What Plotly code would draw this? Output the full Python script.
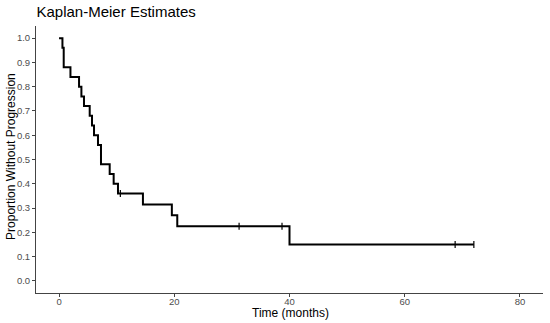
import plotly.graph_objects as go

# Kaplan-Meier step data
event_times = [0, 0.59, 0.81, 1.98, 3.47, 3.88, 4.33, 5.32, 5.72, 6.07, 6.76, 7.28,
               8.79, 9.48, 10.23, 14.56, 19.58, 20.52, 40.0]
surv = [1.0, 0.96, 0.88, 0.84, 0.80, 0.76, 0.72, 0.68, 0.64, 0.60, 0.56, 0.48,
        0.44, 0.40, 0.36, 0.315, 0.27, 0.225, 0.15]
end_time = 72.0
censor_times = [10.64, 31.25, 38.7, 68.75, 72.0]
censor_surv = [0.36, 0.225, 0.225, 0.15, 0.15]

x_ticks = [0, 20, 40, 60, 80]
y_ticks = [0.0, 0.1, 0.2, 0.3, 0.4, 0.5, 0.6, 0.7, 0.8, 0.9, 1.0]

FONT = "Liberation Sans, Arial, sans-serif"
W, H = 550, 323
ML, MR, MT, MB = 36, 7, 25.5, 30
PW, PH = W - ML - MR, H - MT - MB

fig = go.Figure()
fig.add_trace(go.Scatter(
    x=event_times + [end_time], y=surv + [surv[-1]],
    mode="lines", line=dict(color="black", width=2, shape="hv"),
    showlegend=False, hoverinfo="skip"))
fig.add_trace(go.Scatter(
    x=censor_times, y=censor_surv, mode="markers",
    marker=dict(symbol="line-ns", size=5, line=dict(color="black", width=1.2)),
    showlegend=False, hoverinfo="skip"))

axis_common = dict(showgrid=False, zeroline=False, showline=True, automargin=False,
                   linecolor="#444444", linewidth=1, ticks="outside",
                   ticklen=3, tickcolor="#444444", tickwidth=1,
                   tickfont=dict(family=FONT, size=9.5, color="#4d4d4d"))

fig.update_layout(
    width=W, height=H,
    margin=dict(l=ML, r=MR, t=MT, b=MB),
    paper_bgcolor="white", plot_bgcolor="white",
    title=dict(text="Kaplan-Meier Estimates", x=36.5 / W, xanchor="left",
               y=1 - 12 / H, yanchor="middle",
               font=dict(family=FONT, size=15, color="black")),
    xaxis=dict(range=[-4, 84], tickvals=x_ticks, ticklabelstandoff=-3,
               **axis_common),
    yaxis=dict(range=[-0.05, 1.05], tickvals=y_ticks, tickformat=".1f",
               **axis_common),
    annotations=[
        dict(text="Time (months)", xref="paper", yref="paper",
             x=(290.5 - ML) / PW, y=-(313.5 - (H - MB)) / PH,
             xanchor="center", yanchor="middle",
             showarrow=False, font=dict(family=FONT, size=12, color="black")),
        dict(text="Proportion Without Progression", xref="paper", yref="paper",
             x=(11 - ML) / PW, y=((H - MB) - 156.7) / PH,
             xanchor="center", yanchor="middle", textangle=-90,
             showarrow=False, font=dict(family=FONT, size=12, color="black")),
    ],
)

fig.write_html("out.html", config={"displayModeBar": False},
               post_script="document.body.style.margin='0';")
